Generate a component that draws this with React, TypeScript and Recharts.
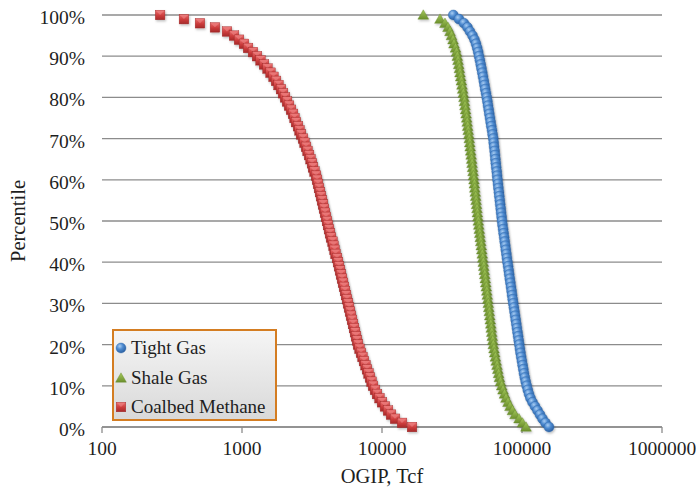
import React from "react";
import { ScatterChart, Scatter, XAxis, YAxis, CartesianGrid, Label } from "recharts";

// Cumulative percentile shared by all three distributions (100 → 0 in 1% steps)
const PERCENTILE = [
  100, 99, 98, 97, 96, 95, 94, 93, 92, 91, 90, 89, 88, 87, 86, 85, 84, 83, 82, 81,
  80, 79, 78, 77, 76, 75, 74, 73, 72, 71, 70, 69, 68, 67, 66, 65, 64, 63, 62, 61,
  60, 59, 58, 57, 56, 55, 54, 53, 52, 51, 50, 49, 48, 47, 46, 45, 44, 43, 42, 41,
  40, 39, 38, 37, 36, 35, 34, 33, 32, 31, 30, 29, 28, 27, 26, 25, 24, 23, 22, 21,
  20, 19, 18, 17, 16, 15, 14, 13, 12, 11, 10, 9, 8, 7, 6, 5, 4, 3, 2, 1, 0,
];

// OGIP (Tcf) at each percentile
const TIGHT_GAS = [
  32310, 35480, 38520, 40800, 42520, 44320, 45790, 46930, 47860, 48660,
  49310, 50040, 50700, 51370, 52050, 52660, 53350, 53970, 54590, 55330,
  55970, 56620, 57170, 57830, 58400, 59080, 59670, 60350, 61060, 61660,
  62370, 62780, 63210, 63730, 64150, 64570, 65000, 65430, 65970, 66400,
  66830, 67390, 67830, 68390, 68850, 69410, 69870, 70450, 70920, 71500,
  71970, 72560, 73280, 73890, 74620, 75230, 75980, 76610, 77370, 78000,
  78770, 79560, 80350, 81010, 81810, 82620, 83430, 84260, 84950, 85800,
  86650, 87500, 88400, 89280, 90160, 91060, 91960, 92880, 93780, 94720,
  95660, 96610, 97570, 98690, 99840, 101000, 102200, 103300, 104700, 106300,
  108000, 110000, 112200, 115000, 118900, 123900, 129100, 134500, 140100, 147200,
  155900,
];

const SHALE_GAS = [
  19720, 25960, 28180, 29610, 30600, 31360, 32150, 32680, 33500, 34050,
  34510, 34910, 35310, 35720, 36070, 36490, 36910, 37280, 37710, 38080,
  38520, 38840, 39160, 39550, 39880, 40270, 40610, 40940, 41280, 41690,
  42030, 42370, 42660, 43010, 43360, 43720, 44010, 44370, 44740, 45040,
  45410, 45710, 46020, 46390, 46700, 47000, 47390, 47710, 48020, 48420,
  48740, 49140, 49550, 49960, 50370, 50780, 51200, 51630, 52050, 52480,
  52920, 53350, 53790, 54240, 54690, 55140, 55590, 56050, 56510, 56980,
  57450, 57920, 58400, 58880, 59370, 59860, 60350, 60850, 61360, 61860,
  62370, 63100, 63830, 64570, 65430, 66290, 67160, 68060, 68960, 70210,
  71610, 73160, 74990, 76860, 79430, 82090, 85530, 89130, 95190, 100800,
  106800,
];

const COALBED_METHANE = [
  260, 385, 501, 641, 781, 877, 952, 1033, 1104, 1198,
  1280, 1356, 1436, 1521, 1598, 1679, 1750, 1823, 1899, 1963,
  2029, 2097, 2167, 2239, 2314, 2371, 2430, 2512, 2575, 2639,
  2728, 2795, 2866, 2937, 3011, 3086, 3162, 3215, 3295, 3378,
  3434, 3491, 3548, 3607, 3667, 3728, 3790, 3852, 3916, 3981,
  4047, 4114, 4182, 4252, 4322, 4432, 4505, 4579, 4655, 4771,
  4850, 4931, 5012, 5095, 5180, 5266, 5353, 5442, 5533, 5623,
  5717, 5812, 5908, 6006, 6106, 6207, 6310, 6415, 6521, 6629,
  6739, 6908, 7079, 7256, 7436, 7622, 7813, 8007, 8208, 8414,
  8624, 8913, 9212, 9597, 10000, 10500, 11040, 11600, 12390, 13900,
  16380,
];

const X_TICKS = [100, 1000, 10000, 100000, 1000000];
const Y_TICKS = [0, 10, 20, 30, 40, 50, 60, 70, 80, 90, 100];

const SERIES_NAMES = ["Tight Gas", "Shale Gas", "Coalbed Methane"];

const FONT = '"Liberation Serif", "Times New Roman", serif';
const TEXT_COLOR = "#1e1e1e";
const GRID_COLOR = "#8c8c8c";

const toPoints = (values: number[]) =>
  values.map((ogip, i) => ({ ogip, pct: PERCENTILE[i] }));

const tightData = toPoints(TIGHT_GAS);
const shaleData = toPoints(SHALE_GAS);
const coalbedData = toPoints(COALBED_METHANE);

// Shaded marker glyphs, reused by the chart and the legend
const MarkerDefs = () => (
  <defs>
    <radialGradient id="mkBlue" cx="38%" cy="32%" r="70%">
      <stop offset="0%" stopColor="#a9cdf2" />
      <stop offset="45%" stopColor="#4d8ad0" />
      <stop offset="100%" stopColor="#2b5f9f" />
    </radialGradient>
    <linearGradient id="mkGreen" x1="0" y1="0" x2="0" y2="1">
      <stop offset="0%" stopColor="#a5c95c" />
      <stop offset="100%" stopColor="#6b8f2c" />
    </linearGradient>
    <linearGradient id="mkRed" x1="0" y1="0" x2="0" y2="1">
      <stop offset="0%" stopColor="#ea7070" />
      <stop offset="55%" stopColor="#cc3c3c" />
      <stop offset="100%" stopColor="#a52a2a" />
    </linearGradient>
    <filter id="mkShadow" x="-50%" y="-50%" width="200%" height="200%">
      <feDropShadow dx="1" dy="1.5" stdDeviation="1" floodColor="#000" floodOpacity="0.25" />
    </filter>
  </defs>
);

const circleGlyph = (cx: number, cy: number) => (
  <circle cx={cx} cy={cy} r={5} fill="url(#mkBlue)" stroke="#2f67a8" strokeWidth={0.4} />
);

const triangleGlyph = (cx: number, cy: number) => (
  <polygon
    points={`${cx},${cy - 5.2} ${cx + 5.4},${cy + 4.2} ${cx - 5.4},${cy + 4.2}`}
    fill="url(#mkGreen)"
    stroke="#66882a"
    strokeWidth={0.4}
  />
);

const squareGlyph = (cx: number, cy: number) => (
  <g>
    <rect x={cx - 4.8} y={cy - 4.8} width={9.6} height={9.6} fill="url(#mkRed)" stroke="#9e2a2a" strokeWidth={0.4} />
    <polygon points={`${cx - 4.2},${cy - 4.2} ${cx + 4.2},${cy - 4.2} ${cx},${cy}`} fill="#f08a8a" opacity={0.55} />
  </g>
);

const CircleShape = (p: any) => <g filter="url(#mkShadow)">{circleGlyph(p.cx, p.cy)}</g>;
const TriangleShape = (p: any) => <g filter="url(#mkShadow)">{triangleGlyph(p.cx, p.cy)}</g>;
const SquareShape = (p: any) => <g filter="url(#mkShadow)">{squareGlyph(p.cx, p.cy)}</g>;

const XTitle = (props: any) => {
  const vb = props.viewBox;
  return (
    <text
      x={vb.x + vb.width / 2}
      y={vb.y + 49}
      textAnchor="middle"
      dominantBaseline="central"
      fill={TEXT_COLOR}
      style={{ fontFamily: FONT, fontSize: 20.5 }}
    >
      OGIP, Tcf
    </text>
  );
};

const YTitle = (props: any) => {
  const vb = props.viewBox;
  const x = 18;
  const y = vb.y + vb.height / 2;
  return (
    <text
      x={x}
      y={y}
      transform={`rotate(-90 ${x} ${y})`}
      textAnchor="middle"
      dominantBaseline="central"
      fill={TEXT_COLOR}
      style={{ fontFamily: FONT, fontSize: 20.5 }}
    >
      Percentile
    </text>
  );
};

const LEGEND_GLYPHS = [circleGlyph, triangleGlyph, squareGlyph];

const LegendBox = () => (
  <div
    style={{
      position: "absolute",
      left: 112,
      top: 329,
      width: 165,
      height: 92,
      boxSizing: "border-box",
      border: "2px solid #d47d22",
      background: "linear-gradient(#f5f5f5, #d9d9d9)",
      fontFamily: FONT,
      fontSize: 19,
      color: TEXT_COLOR,
    }}
  >
    {SERIES_NAMES.map((name, i) => (
      <div
        key={name}
        style={{
          position: "absolute",
          left: 0,
          top: 5 + i * 29.5,
          height: 24,
          display: "flex",
          alignItems: "center",
          whiteSpace: "nowrap",
        }}
      >
        <svg width={14} height={14} style={{ marginRight: 3 }}>
          {LEGEND_GLYPHS[i](7, 7)}
        </svg>
        <span>{name}</span>
      </div>
    ))}
  </div>
);

const tickStyle = { fill: TEXT_COLOR, fontSize: 19.5, style: { fontFamily: FONT } };

export default function App() {
  return (
    <div style={{ position: "absolute", left: 0, top: 0, width: 696, height: 487, background: "#fff", fontFamily: FONT }}>
      <ScatterChart width={696} height={487} margin={{ top: 15, right: 34, bottom: 0, left: 0 }}>
        <MarkerDefs />
        <CartesianGrid vertical={false} stroke={GRID_COLOR} strokeWidth={1.3} />
        <XAxis
          dataKey="ogip"
          type="number"
          scale="log"
          domain={[100, 1000000]}
          ticks={X_TICKS}
          interval={0}
          height={60}
          stroke={GRID_COLOR}
          strokeWidth={1.3}
          tickSize={6}
          tickMargin={8}
          tickFormatter={(v: number) => String(v)}
          tick={tickStyle}
        >
          <Label content={XTitle} />
        </XAxis>
        <YAxis
          dataKey="pct"
          type="number"
          domain={[0, 100]}
          ticks={Y_TICKS}
          interval={0}
          width={102}
          axisLine={false}
          tickLine={false}
          tickSize={6}
          tickMargin={11}
          tickFormatter={(v: number) => `${v}%`}
          tick={{ ...tickStyle, dy: 2 }}
        >
          <Label content={YTitle} />
        </YAxis>
        <Scatter name={SERIES_NAMES[0]} data={tightData} shape={CircleShape} isAnimationActive={false} />
        <Scatter name={SERIES_NAMES[1]} data={shaleData} shape={TriangleShape} isAnimationActive={false} />
        <Scatter name={SERIES_NAMES[2]} data={coalbedData} shape={SquareShape} isAnimationActive={false} />
      </ScatterChart>
      <LegendBox />
    </div>
  );
}
